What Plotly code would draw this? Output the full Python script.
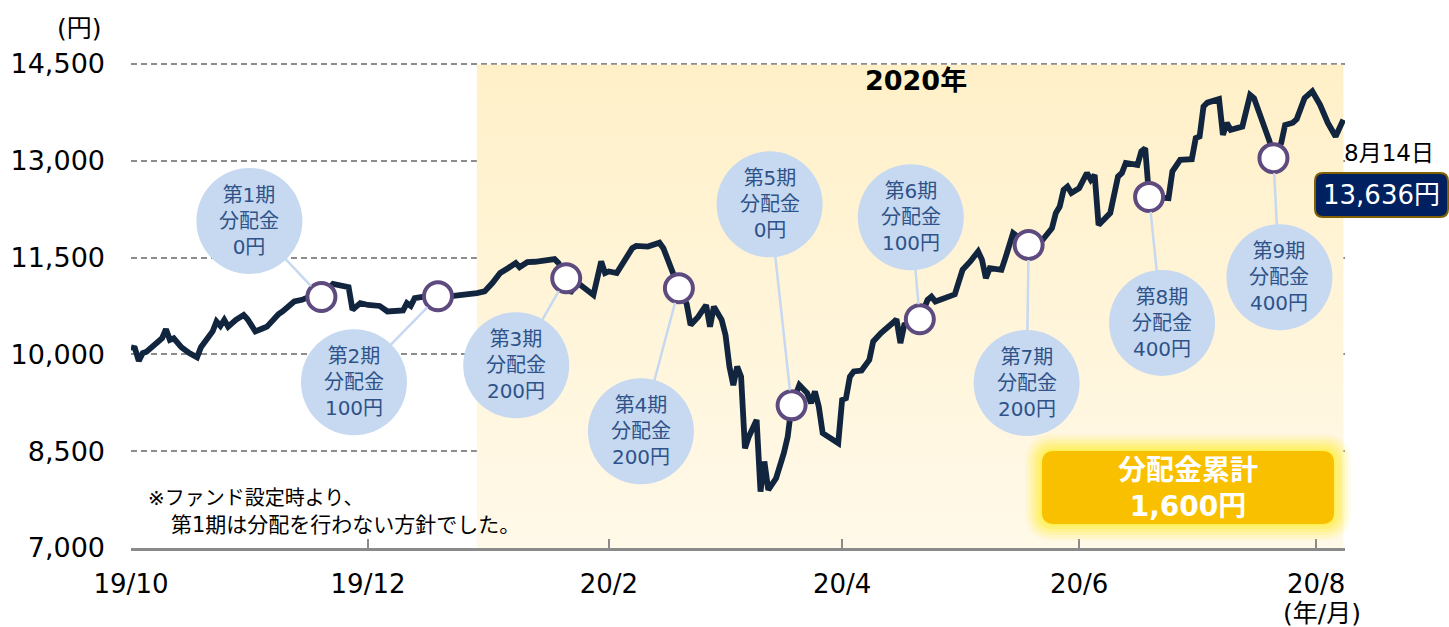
import plotly.graph_objects as go

# ---------------- data ----------------
DATES = ["2019-10-01","2019-10-02","2019-10-03","2019-10-04","2019-10-05","2019-10-08","2019-10-09","2019-10-10","2019-10-11","2019-10-12",
         "2019-10-14","2019-10-16","2019-10-18","2019-10-19","2019-10-20","2019-10-21","2019-10-22","2019-10-23","2019-10-24","2019-10-25",
         "2019-10-26","2019-10-28","2019-10-30","2019-10-31","2019-11-02","2019-11-04","2019-11-05","2019-11-08","2019-11-09","2019-11-12",
         "2019-11-14","2019-11-16","2019-11-19","2019-11-22","2019-11-24","2019-11-26","2019-11-27","2019-11-29","2019-12-01","2019-12-04",
         "2019-12-06","2019-12-10","2019-12-11","2019-12-12","2019-12-13","2019-12-15","2019-12-19","2019-12-23","2019-12-29","2019-12-31",
         "2020-01-02","2020-01-04","2020-01-06","2020-01-08","2020-01-09","2020-01-11","2020-01-13","2020-01-16","2020-01-18","2020-01-19",
         "2020-01-21","2020-01-22","2020-01-24","2020-01-28","2020-01-30","2020-01-31","2020-02-01","2020-02-03","2020-02-05","2020-02-07",
         "2020-02-08","2020-02-11","2020-02-14","2020-02-15","2020-02-19","2020-02-21","2020-02-22","2020-02-24","2020-02-26","2020-02-27",
         "2020-02-28","2020-03-01","2020-03-02","2020-03-03","2020-03-04","2020-03-05","2020-03-06","2020-03-07","2020-03-08","2020-03-10",
         "2020-03-11","2020-03-12","2020-03-13","2020-03-15","2020-03-17","2020-03-18","2020-03-19","2020-03-21","2020-03-23","2020-03-24",
         "2020-03-25","2020-03-26","2020-03-27","2020-03-31","2020-04-01","2020-04-02","2020-04-03","2020-04-04","2020-04-06","2020-04-08",
         "2020-04-09","2020-04-11","2020-04-14","2020-04-15","2020-04-16","2020-04-17","2020-04-21","2020-04-23","2020-04-24","2020-04-25",
         "2020-04-30","2020-05-02","2020-05-04","2020-05-06","2020-05-07","2020-05-08","2020-05-09","2020-05-12","2020-05-13","2020-05-15",
         "2020-05-19","2020-05-22","2020-05-25","2020-05-26","2020-05-27","2020-05-28","2020-05-29","2020-05-30","2020-06-01","2020-06-03",
         "2020-06-04","2020-06-05","2020-06-06","2020-06-09","2020-06-11","2020-06-12","2020-06-13","2020-06-16","2020-06-17","2020-06-18",
         "2020-06-19","2020-06-24","2020-06-25","2020-06-27","2020-06-30","2020-07-01","2020-07-02","2020-07-03","2020-07-04","2020-07-07",
         "2020-07-08","2020-07-09","2020-07-10","2020-07-13","2020-07-15","2020-07-16","2020-07-20","2020-07-21","2020-07-23","2020-07-24",
         "2020-07-26","2020-07-27","2020-07-29","2020-07-31","2020-08-02","2020-08-04","2020-08-06","2020-08-08"]

NAV = [10110,10095,9900,10020,10040,10200,10250,10390,10225,10250,
       10110,10020,9955,10110,10200,10300,10355,10510,10440,10535,
       10430,10535,10610,10545,10355,10405,10430,10625,10665,10820,
       10845,10895,10890,11090,11075,11040,10690,10795,10765,10750,
       10665,10680,10795,10750,10870,10890,10900,10905,10950,10975,
       11105,11260,11335,11415,11350,11430,11435,11450,11475,11415,
       11180,10950,11105,10920,11440,11260,11285,11260,11465,11645,
       11680,11670,11730,11645,11025,10780,10455,10585,10765,10430,
       10740,10535,10300,9810,9525,9810,9655,8545,8725,8985,
       7875,8340,7900,8080,8470,8725,9210,9525,9400,9245,
       9425,9190,8780,8625,9295,9320,9655,9735,9750,9915,
       10200,10330,10485,10545,10175,10455,10545,10845,10895,10820,
       10930,11310,11440,11595,11465,11180,11335,11310,11490,11880,
       11695,11730,11955,12190,12290,12550,12600,12500,12575,12810,
       12705,12780,12005,12190,12755,12810,12965,12935,13145,13195,
       12440,12420,12835,13015,13025,13350,13375,13840,13900,13955,
       13400,13585,13480,13530,14020,13970,13300,13040,13275,13555,
       13590,13645,13970,14075,13865,13585,13375,13636]

DIST_DATES = ["2019-11-19","2019-12-19","2020-01-21","2020-02-19","2020-03-19",
              "2020-04-21","2020-05-19","2020-06-19","2020-07-21"]
DIST_AMOUNTS = [0, 100, 200, 200, 0, 100, 200, 400, 400]

Y_TICKS = [7000, 8500, 10000, 11500, 13000, 14500]
Y_TICK_TEXT = ["7,000", "8,500", "10,000", "11,500", "13,000", "14,500"]
X_TICKS = ["2019-10-01", "2019-12-01", "2020-02-01", "2020-04-01", "2020-06-01", "2020-08-01"]
X_TICK_TEXT = ["19/10", "19/12", "20/2", "20/4", "20/6", "20/8"]

SHADE_START = "2019-12-29"
YEAR_LABEL = "2020年"
LAST_DATE_LABEL = "8月14日"

# ---------------- layout constants ----------------
W, H = 1449, 627
L, R, T, B = 131, 104, 62, 79
PW, PH = W - L - R, H - T - B
Y_TOP = 14530  # small headroom so the top grid line is not clipped
FONT = "DejaVu Sans, Noto Sans CJK JP, sans-serif"
LINE_COLOR = "#12253F"
BUBBLE_COLOR = "#C6D9F1"
BUBBLE_TEXT = "#2F5289"
BUBBLE_R = 53
BUBBLE_OFFSETS = [(-72, -76), (-84, 86), (-50, 87), (-38, 143), (-22, -201),
                  (-9, -102), (-2, 138), (13, 126), (6, 119)]


def px(xp):
    return (xp - L) / PW


def py(yp):
    return (H - B - yp) / PH


def rrect(x0, y0, x1, y1, r):
    """rounded rectangle path in paper coords from pixel coords"""
    pts = [
        ("M", [(x0 + r, y0)]),
        ("L", [(x1 - r, y0)]),
        ("Q", [(x1, y0), (x1, y0 + r)]),
        ("L", [(x1, y1 - r)]),
        ("Q", [(x1, y1), (x1 - r, y1)]),
        ("L", [(x0 + r, y1)]),
        ("Q", [(x0, y1), (x0, y1 - r)]),
        ("L", [(x0, y0 + r)]),
        ("Q", [(x0, y0), (x0 + r, y0)]),
    ]
    s = ""
    for cmd, ps in pts:
        s += cmd + " " + " ".join(f"{px(a):.5f},{py(b):.5f}" for a, b in ps) + " "
    return s + "Z"


def label(xp, yp, text, size, xanchor="center", color="black"):
    return dict(x=px(xp), y=py(yp), xref="paper", yref="paper",
                xanchor=xanchor, yanchor="middle", text=text, showarrow=False,
                font=dict(family=FONT, size=size, color=color), align="center")


fig = go.Figure()

# 2020 shading (gradient)
fig.add_trace(go.Scatter(
    x=[SHADE_START, DATES[-1], DATES[-1], SHADE_START, SHADE_START],
    y=[Y_TICKS[0], Y_TICKS[0], Y_TICKS[-1] - 12, Y_TICKS[-1] - 12, Y_TICKS[0]],
    mode="lines", line=dict(width=0), fill="toself",
    fillgradient=dict(type="vertical", colorscale=[[0, "#FFF9E9"], [1, "#FFF0C8"]]),
    hoverinfo="skip", showlegend=False))

# NAV line
fig.add_trace(go.Scatter(x=DATES, y=NAV, mode="lines",
                         line=dict(color=LINE_COLOR, width=5.8),
                         hoverinfo="skip", showlegend=False))

# distribution markers
nav_by_date = dict(zip(DATES, NAV))
dist_vals = [nav_by_date[d] for d in DIST_DATES]
fig.add_trace(go.Scatter(x=DIST_DATES, y=dist_vals, mode="markers",
                         marker=dict(size=28, color="white",
                                     line=dict(color="#5D4A7F", width=4)),
                         hoverinfo="skip", showlegend=False))

shapes = []
annotations = []

# bubbles
for i, (d, v, amt) in enumerate(zip(DIST_DATES, dist_vals, DIST_AMOUNTS)):
    dx, dy = BUBBLE_OFFSETS[i]
    shapes.append(dict(type="circle", xref="x", yref="y", xsizemode="pixel", ysizemode="pixel",
                       xanchor=d, yanchor=v,
                       x0=dx - BUBBLE_R, x1=dx + BUBBLE_R,
                       y0=-dy - BUBBLE_R, y1=-dy + BUBBLE_R,
                       fillcolor=BUBBLE_COLOR, line=dict(width=0), layer="above"))
    annotations.append(dict(x=d, y=v, xref="x", yref="y", ax=dx, ay=dy,
                            text=f"第{i+1}期<br>分配金<br>{amt:,}円",
                            showarrow=True, arrowhead=0, arrowwidth=2.5,
                            arrowcolor=BUBBLE_COLOR, standoff=15,
                            font=dict(family=FONT, size=20, color=BUBBLE_TEXT),
                            align="center"))

# cumulative distribution box with glow
bx0, by0, bx1, by1 = 1042, 451, 1334, 524
for grow, op in [(17, 0.10), (14, 0.14), (11, 0.18), (8, 0.24), (5, 0.32), (2, 0.45)]:
    shapes.append(dict(type="path", xref="paper", yref="paper",
                       path=rrect(bx0 - grow, by0 - grow, bx1 + grow, by1 + grow, 12 + grow),
                       fillcolor="#FFF040", opacity=op, line=dict(width=0), layer="above"))
shapes.append(dict(type="path", xref="paper", yref="paper",
                   path=rrect(bx0, by0, bx1, by1, 12),
                   fillcolor="#F9C000", line=dict(width=0), layer="above"))
annotations.append(label((bx0 + bx1) / 2, (by0 + by1) / 2 + 1,
                         f"<b>分配金累計</b><br><b>{sum(DIST_AMOUNTS):,}円</b>", 28, color="white"))

# last value box
vx0, vy0, vx1, vy1 = 1315, 173, 1448, 217
shapes.append(dict(type="path", xref="paper", yref="paper",
                   path=rrect(vx0, vy0, vx1, vy1, 8),
                   fillcolor="#002060", line=dict(color="#806000", width=2), layer="above"))
annotations.append(label((vx0 + vx1) / 2, (vy0 + vy1) / 2, f"{NAV[-1]:,}円", 26, color="white"))
annotations.append(label(1389, 153, LAST_DATE_LABEL, 23))

# year label
annotations.append(label(916, 80, f"<b>{YEAR_LABEL}</b>", 27))

# unit labels
annotations.append(label(104, 29, "(円)", 25, xanchor="right"))
annotations.append(label(1322, 613, "(年/月)", 25))

# footnote
annotations.append(label(146, 498, "※ファンド設定時より、", 20, xanchor="left"))
annotations.append(label(169, 525, "第1期は分配を行わない方針でした。", 21, xanchor="left"))

fig.update_layout(
    width=W, height=H,
    margin=dict(l=L, r=R, t=T, b=B),
    paper_bgcolor="white", plot_bgcolor="white",
    shapes=shapes, annotations=annotations,
    showlegend=False,
    xaxis=dict(type="date", range=["2019-10-01", "2020-08-08 10:00"],
               tickvals=X_TICKS, ticktext=X_TICK_TEXT,
               ticks="inside", ticklen=9, tickwidth=2, tickcolor="#8A8A8A",
               showline=True, linecolor="#8A8A8A", linewidth=3,
               showgrid=False, zeroline=False,
               ticklabelstandoff=11,
               tickfont=dict(family=FONT, size=26, color="black")),
    yaxis=dict(range=[Y_TICKS[0], Y_TOP], tickvals=Y_TICKS, ticktext=Y_TICK_TEXT,
               showgrid=True, gridcolor="#8C8C8C", gridwidth=1.5, griddash="6px,4px",
               showline=False, zeroline=False, ticks="",
               ticklabelstandoff=25,
               tickfont=dict(family=FONT, size=27, color="black")),
)

fig.write_html("out.html", config={"displayModeBar": False},
               post_script="document.body.style.margin='0';")
